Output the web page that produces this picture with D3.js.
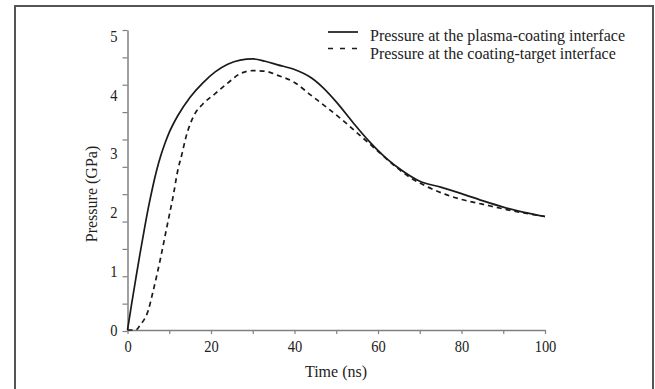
<!DOCTYPE html>
<html>
<head>
<meta charset="utf-8">
<script src="https://cdn.jsdelivr.net/npm/d3@7"></script>
<style>
  body { margin: 0; background: #fff; }
  svg { display: block; font-family: "Liberation Serif", "DejaVu Serif", serif; }
</style>
</head>
<body>
<div id="chart"></div>
<script>
// dados
const timeSolid = [0, 1, 2, 3, 4, 5, 6, 7, 8, 9, 10, 12, 15, 18, 21, 24, 27, 30, 33, 36, 40, 44, 47, 50, 54, 58, 62, 66, 70, 75, 80, 85, 90, 95, 100];
const pressSolid = [0, 0.45, 0.88, 1.3, 1.7, 2.08, 2.42, 2.72, 2.97, 3.18, 3.36, 3.64, 3.96, 4.2, 4.39, 4.52, 4.59, 4.61, 4.57, 4.51, 4.43, 4.29, 4.11, 3.88, 3.53, 3.2, 2.92, 2.7, 2.53, 2.43, 2.32, 2.2, 2.09, 2.0, 1.93];

const timeDashed = [0, 2, 3, 5, 6, 8, 9, 10, 11, 12, 13, 14, 15, 16, 18, 21, 24, 27, 30, 33, 36, 40, 44, 48, 52, 56, 60, 64, 68, 72, 76, 80, 85, 90, 95, 100];
const pressDashed = [0, 0, 0.08, 0.34, 0.62, 1.25, 1.6, 1.95, 2.3, 2.7, 2.98, 3.28, 3.5, 3.66, 3.84, 4.02, 4.2, 4.36, 4.41, 4.4, 4.33, 4.21, 3.99, 3.77, 3.54, 3.29, 3.04, 2.79, 2.58, 2.43, 2.31, 2.22, 2.14, 2.06, 1.99, 1.93];

const xTicks = [0, 10, 20, 30, 40, 50, 60, 70, 80, 90, 100];
const yLabels = [0, 1, 2, 3, 4, 5];
const yMinorTicks = [0, 0.5, 1, 1.5, 2, 2.5, 3, 3.5, 4, 4.5, 5, 5.5];
const legendLabels = ["Pressure at the plasma-coating interface", "Pressure at the coating-target interface"];

const width = 655, height = 389;
const stretch = "scale(1,1.15)"; // algarismos do original são mais altos que largos
const ink = "#222";

const svg = d3.select("#chart").append("svg")
    .attr("width", width)
    .attr("height", height);

// moldura
svg.append("rect")
    .attr("x", 15).attr("y", 6)
    .attr("width", 638).attr("height", 400)
    .attr("fill", "none")
    .attr("stroke", "#555")
    .attr("stroke-width", 2);

// escalas
const x = d3.scaleLinear().domain([0, 100]).range([127.5, 545]);
const y = d3.scaleLinear().domain([0, 5]).range([330, 36]);       // valores e rótulos
const yTick = d3.scaleLinear().domain([0, 5.5]).range([331, 30]); // marcas do eixo (desalinhadas no original)

// eixo x
const gx = svg.append("g")
    .attr("transform", "translate(0,330)")
    .call(d3.axisBottom(x)
        .tickValues(xTicks)
        .tickFormat(d => d % 20 === 0 ? d : "")
        .tickSize(4)
        .tickPadding(5)
        .tickSizeOuter(0));

// eixo y: marcas
const gy = svg.append("g")
    .attr("transform", "translate(127.5,0)")
    .call(d3.axisLeft(yTick)
        .tickValues(yMinorTicks)
        .tickFormat("")
        .tickSize(5)
        .tickSizeOuter(0));

// eixo y: rótulos
const gyl = svg.append("g")
    .attr("transform", "translate(127.5,0)")
    .call(d3.axisLeft(y)
        .tickValues(yLabels)
        .tickFormat(d3.format("d"))
        .tickSize(0)
        .tickPadding(10));
gyl.select(".domain").remove();

[gx, gy].forEach(g => {
    g.select(".domain").attr("stroke", "#808080").attr("stroke-width", 1.5);
    g.selectAll(".tick line").attr("stroke", "#808080").attr("stroke-width", 1.2);
});
[gx, gyl].forEach(g => {
    g.selectAll(".tick text")
        .attr("fill", ink)
        .attr("transform", stretch)
        .style("font-size", "14.5px")
        .style("font-family", "'Liberation Serif', serif");
});

// títulos dos eixos
svg.append("text")
    .attr("x", 336).attr("y", 377)
    .attr("text-anchor", "middle")
    .attr("fill", ink)
    .style("font-size", "16px")
    .text("Time (ns)");

svg.append("text")
    .attr("transform", "translate(97,194) rotate(-90)")
    .attr("text-anchor", "middle")
    .attr("fill", ink)
    .style("font-size", "16px")
    .text("Pressure (GPa)");

// curvas
const line = d3.line()
    .x(d => x(d[0]))
    .y(d => y(d[1]))
    .curve(d3.curveMonotoneX);

const solid = d3.zip(timeSolid, pressSolid);
const dashed = d3.zip(timeDashed, pressDashed);

svg.append("path")
    .datum(solid)
    .attr("d", line)
    .attr("fill", "none")
    .attr("stroke", "#1a1a1a")
    .attr("stroke-width", 1.7);

svg.append("path")
    .datum(dashed)
    .attr("d", line)
    .attr("fill", "none")
    .attr("stroke", "#1a1a1a")
    .attr("stroke-width", 1.7)
    .attr("stroke-dasharray", "5,4");

// legenda
const legend = svg.append("g");
legendLabels.forEach((label, i) => {
    const ly = 32 + i * 16.5;
    legend.append("line")
        .attr("x1", 328).attr("x2", 358)
        .attr("y1", ly).attr("y2", ly)
        .attr("stroke", "#1a1a1a")
        .attr("stroke-width", 1.7)
        .attr("stroke-dasharray", i === 1 ? "5,7" : null);
    legend.append("text")
        .attr("x", 370)
        .attr("y", 40.5 + i * 18)
        .attr("fill", ink)
        .style("font-size", "16px")
        .text(label);
});
</script>
</body>
</html>
